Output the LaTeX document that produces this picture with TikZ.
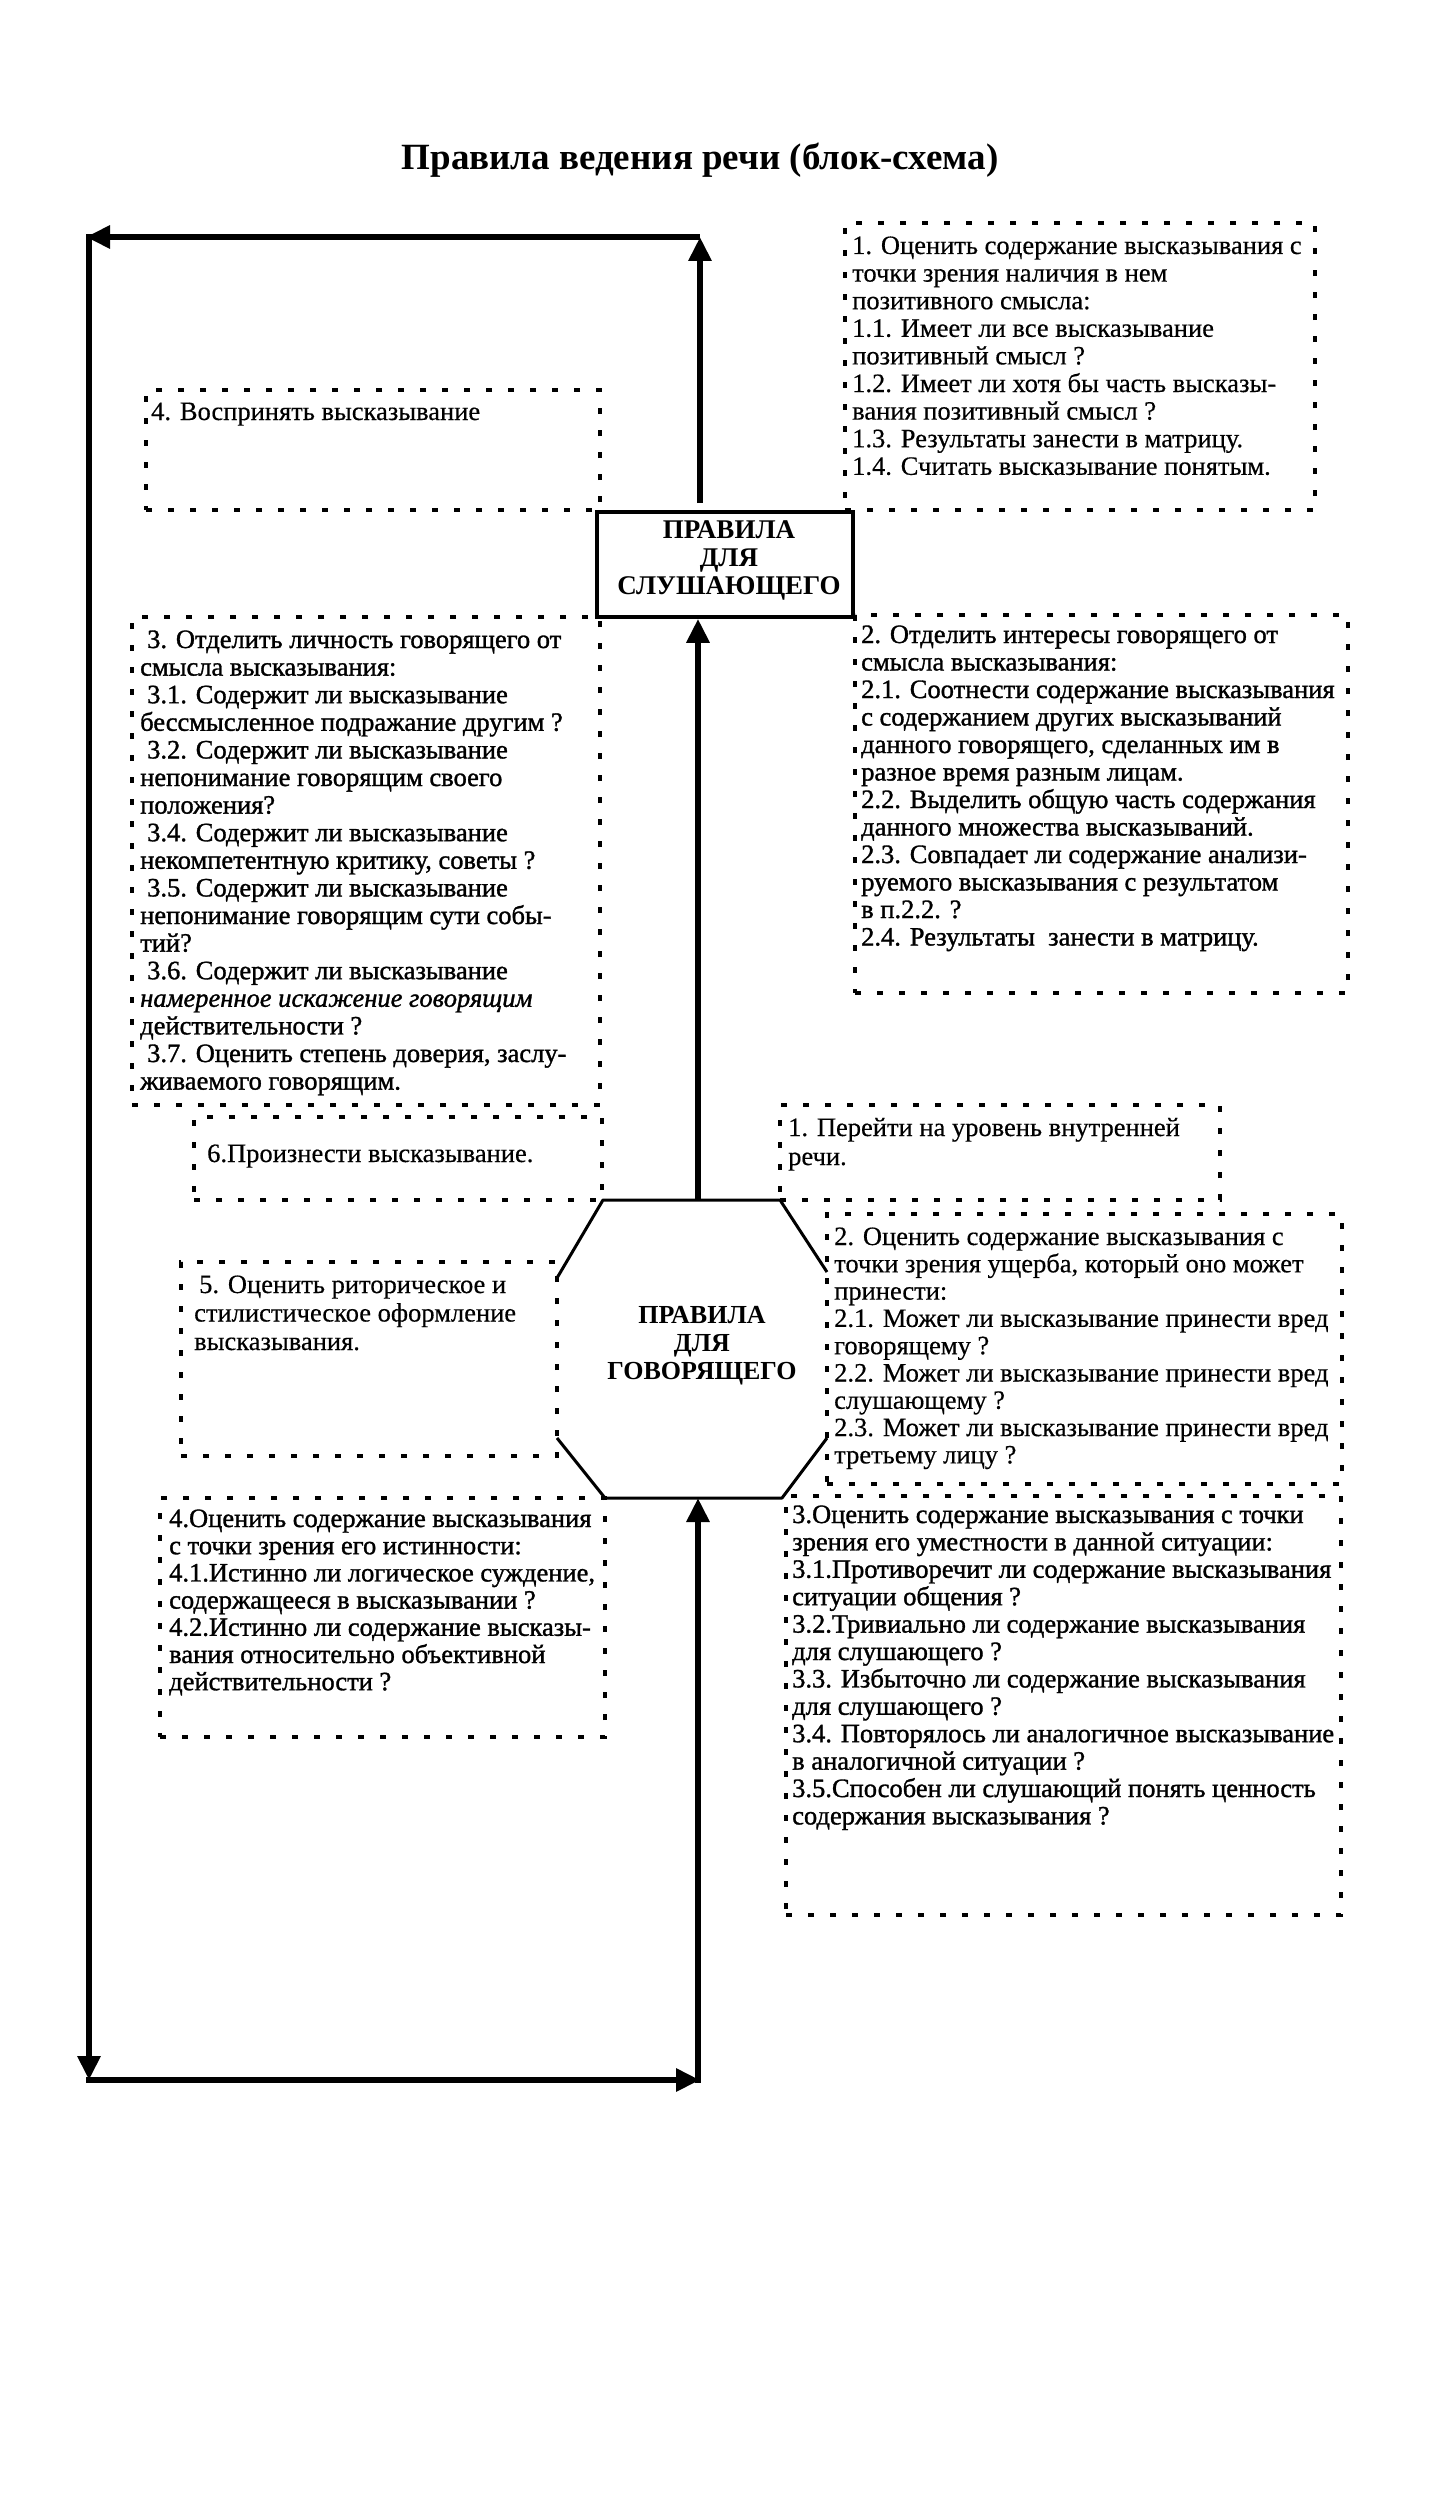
\documentclass[tikz,border=0pt]{standalone}
\usepackage{fontspec}
\setmainfont{Liberation Serif}
\newfontfamily\heavyserif{Liberation Serif}[FakeBold=1.2]
\newfontfamily\midserif{Liberation Serif}[FakeBold=0.4]
\usetikzlibrary{arrows.meta}
\begin{document}
\begin{tikzpicture}[x=1pt,y=-1pt,
  dotbox/.style={draw, line width=3.5pt, dash pattern=on 6pt off 16pt, inner sep=0pt},
  flow/.style={line width=6pt, -{Triangle[length=24pt,width=22pt]}},
  txt/.style={anchor=base west, inner sep=0pt, font=\midserif\fontsize{26.5}{27.6}\selectfont},
  htxt/.style={anchor=base west, inner sep=0pt, font=\heavyserif\fontsize{26.5}{27.6}\selectfont},
  headtxt/.style={align=center, inner sep=0pt, font=\bfseries\fontsize{26}{28}\selectfont},
  solidline/.style={line width=3pt, line join=round}
]
\fill[white] (0,0) rectangle (1445,2515);
\useasboundingbox (0,0) rectangle (1445,2515);

% title
\node[anchor=base, inner sep=0pt, font=\bfseries\fontsize{37}{40}\selectfont] (title) at (700,170) {Правила ведения речи (блок-схема)};

% ---------- listener part ----------
\node[draw, line width=3.5pt, minimum width=256pt, minimum height=105pt, inner sep=0pt] (lis) at (725,564.5) {};
\node[headtxt, font=\bfseries\fontsize{27}{28}\selectfont] (list) at (729,560) {ПРАВИЛА\\ДЛЯ\\СЛУШАЮЩЕГО};

\node[dotbox, minimum width=470pt, minimum height=287pt] (bR1) at (1080,366.5) {};
\foreach [count=\i] \t in {{1. Оценить содержание высказывания с},{точки зрения наличия в нем},{позитивного смысла:},{1.1. Имеет ли все высказывание},{позитивный смысл ?},{1.2. Имеет ли хотя бы часть высказы-},{вания позитивный смысл ?},{1.3. Результаты занести в матрицу.},{1.4. Считать высказывание понятым.}}
  \node[txt] (tR1-\i) at (852,{254+27.6*(\i-1)}) {\t};

\node[dotbox, minimum width=454pt, minimum height=120pt] (bL4) at (373,450) {};
\node[txt] (tL4) at (151,420) {4. Воспринять высказывание};

\node[dotbox, minimum width=468pt, minimum height=488pt] (bL3) at (366,861) {};
\foreach [count=\i] \t in {{\hspace{7pt}3. Отделить личность говорящего от},{смысла высказывания:},{\hspace{7pt}3.1. Содержит ли высказывание},{бессмысленное подражание другим ?},{\hspace{7pt}3.2. Содержит ли высказывание},{непонимание говорящим своего},{положения?},{\hspace{7pt}3.4. Содержит ли высказывание},{некомпетентную критику, советы ?},{\hspace{7pt}3.5. Содержит ли высказывание},{непонимание говорящим сути собы-},{тий?},{\hspace{7pt}3.6. Содержит ли высказывание},{\textit{намеренное искажение говорящим}},{действительности ?},{\hspace{7pt}3.7. Оценить степень доверия, заслу-},{живаемого говорящим.}}
  \node[htxt] (tL3-\i) at (140,{648+27.6*(\i-1)}) {\t};

\node[dotbox, minimum width=493pt, minimum height=378pt] (bR2) at (1101.5,804) {};
\foreach [count=\i] \t in {{2. Отделить интересы говорящего от},{смысла высказывания:},{2.1. Соотнести содержание высказывания},{с содержанием других высказываний},{данного говорящего, сделанных им в},{разное время разным лицам.},{2.2. Выделить общую часть содержания},{данного множества высказываний.},{2.3. Совпадает ли содержание анализи-},{руемого высказывания с результатом},{в п.2.2. ?},{2.4. Результаты\ \ занести в матрицу.}}
  \node[htxt] (tR2-\i) at (861,{643+27.5*(\i-1)}) {\t};

% ---------- speaker part ----------
\node[dotbox, minimum width=408pt, minimum height=83pt] (bL6) at (398,1158.5) {};
\node[txt] (tL6) at (207,1162) {6.Произнести высказывание.};

\node[dotbox, minimum width=440pt, minimum height=95pt] (bS1) at (1000,1152.5) {};
\node[txt] (tS1-1) at (788,1136) {1. Перейти на уровень внутренней};
\node[txt] (tS1-2) at (788,1165) {речи.};

\node[dotbox, minimum width=376pt, minimum height=194pt] (bL5) at (369,1359) {};
\foreach [count=\i] \t in {{\hspace{5pt}5. Оценить риторическое и},{стилистическое оформление},{высказывания.}}
  \node[txt] (tL5-\i) at (194,{1293+28.5*(\i-1)}) {\t};

\node[dotbox, minimum width=515pt, minimum height=270pt] (bS2) at (1084.5,1349) {};
\foreach [count=\i] \t in {{2. Оценить содержание высказывания с},{точки зрения ущерба, который оно может},{принести:},{2.1. Может ли высказывание принести вред},{говорящему ?},{2.2. Может ли высказывание принести вред},{слушающему ?},{2.3. Может ли высказывание принести вред},{третьему лицу ?}}
  \node[txt] (tS2-\i) at (834,{1245+27.3*(\i-1)}) {\t};

\node[dotbox, minimum width=445pt, minimum height=239pt] (bS4) at (382.5,1617.5) {};
\foreach [count=\i] \t in {{4.Оценить содержание высказывания},{с точки зрения его истинности:},{4.1.Истинно ли логическое суждение,},{содержащееся в высказывании ?},{4.2.Истинно ли содержание высказы-},{вания относительно объективной},{действительности ?}}
  \node[htxt] (tS4-\i) at (169,{1527+27.2*(\i-1)}) {\t};

\node[dotbox, minimum width=555pt, minimum height=419pt] (bS3) at (1063.5,1705.5) {};
\foreach [count=\i] \t in {{3.Оценить содержание высказывания с точки},{зрения его уместности в данной ситуации:},{3.1.Противоречит ли содержание высказывания},{ситуации общения ?},{3.2.Тривиально ли содержание высказывания},{для слушающего ?},{3.3. Избыточно ли содержание высказывания},{для слушающего ?},{3.4. Повторялось ли аналогичное высказывание},{в аналогичной ситуации ?},{3.5.Способен ли слушающий понять ценность},{содержания высказывания ?}}
  \node[htxt] (tS3-\i) at (792,{1523+27.4*(\i-1)}) {\t};

% octagon of the speaker
\coordinate (o1) at (603,1200);
\coordinate (o2) at (780,1200);
\coordinate (o3) at (827,1272);
\coordinate (o4) at (827,1438);
\coordinate (o5) at (782,1498);
\coordinate (o6) at (605,1498);
\coordinate (o7) at (557,1438);
\coordinate (o8) at (557,1278);
\draw[solidline] (o8) -- (o1) -- (o2) -- (o3);
\draw[solidline] (o4) -- (o5) -- (o6) -- (o7);
\node[headtxt] (spk) at (702,1346) {ПРАВИЛА\\ДЛЯ\\ГОВОРЯЩЕГО};

% ---------- flow loop ----------
\coordinate (lisup) at (700,503);
\coordinate (tr) at (700,237);
\coordinate (tl) at (86,237);
\coordinate (tlv) at (89,234);
\coordinate (bl) at (89,2080);
\coordinate (blh) at (86,2080);
\coordinate (br) at (700,2080);
\coordinate (brv) at (698,2083);
\coordinate (spkbot) at (698,1498);
\coordinate (spktop) at (698,1200);

\draw[flow] (lisup) -- (tr);
\draw[flow] (tr) -- (tl);
\draw[flow] (tlv) -- (bl);
\draw[flow] (blh) -- (br);
\draw[flow] (brv) -- (spkbot);
\draw[flow] (spktop) -- (lis.south -| spktop);
\end{tikzpicture}
\end{document}
